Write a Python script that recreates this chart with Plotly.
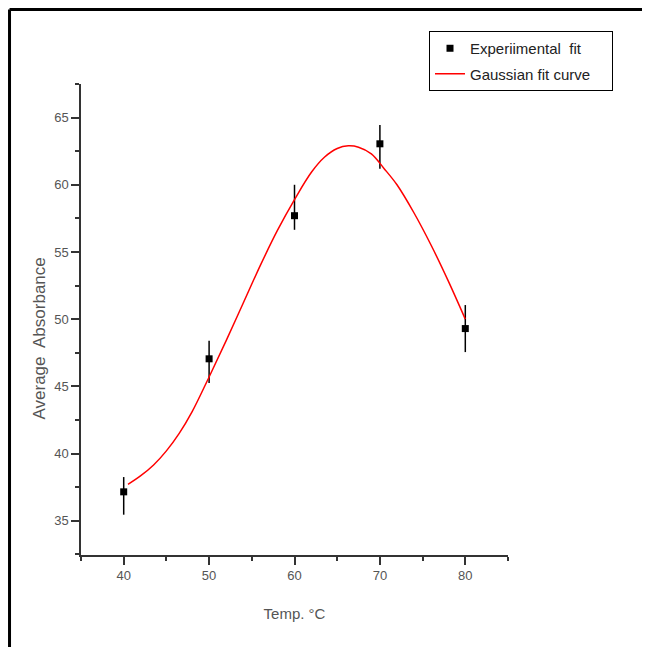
import plotly.graph_objects as go

temp = [40, 50, 60, 70, 80]
absorbance = [37.15, 47.05, 57.7, 63.05, 49.3]
err_plus = [1.1, 1.35, 2.3, 1.4, 1.75]
err_minus = [1.7, 1.8, 1.05, 1.85, 1.75]

# Gaussian fit curve
fit_x = [40.5, 42, 43.5, 45, 46.5, 48, 50, 52, 54, 56, 58, 60,
         62, 63.5, 65, 66.3, 67.5, 69, 70.5, 72, 74, 76, 78, 80]
fit_y = [37.7, 38.35, 39.15, 40.2, 41.5, 43.1, 45.7, 48.4, 51.2, 54.0, 56.6, 58.9,
         60.95, 62.05, 62.7, 62.9, 62.8, 62.3, 61.2, 60.0, 57.9, 55.5, 52.85, 50.0]

x_ticks = [40, 50, 60, 70, 80]
y_ticks = [35, 40, 45, 50, 55, 60, 65]

FONT = "Liberation Sans Narrow, Arial Narrow, Liberation Sans, Arial, sans-serif"
NB = "\u00a0"

fig = go.Figure()

fig.add_trace(go.Scatter(
    x=temp, y=absorbance, mode="markers", name="Experiimental  fit",
    marker=dict(symbol="square", size=7, color="black"),
    error_y=dict(type="data", symmetric=False, array=err_plus, arrayminus=err_minus,
                 color="black", thickness=1.5, width=0),
    legendgroup="a",
))

fig.add_trace(go.Scatter(
    x=fit_x, y=fit_y, mode="lines", name="Gaussian fit curve" + NB * 4,
    line=dict(color="#ff0000", width=1.5, shape="spline", smoothing=1.0),
    legendgroup="b",
))

axis_common = dict(
    showline=True, linecolor="#333333", linewidth=1.5,
    ticks="outside", ticklen=8, tickwidth=1.5, tickcolor="#333333",
    showgrid=False, zeroline=False, mirror=False,
    tickfont=dict(family=FONT, size=13, color="#555555"),
)

fig.update_xaxes(
    range=[35, 85], tickvals=x_ticks,
    minor=dict(dtick=5, tick0=35, ticks="outside", ticklen=4, tickwidth=1.5, tickcolor="#333333"),
    title=dict(text="Temp. °C", font=dict(family=FONT, size=15, color="#555555"), standoff=26),
    **axis_common,
)
fig.update_yaxes(
    range=[32.45, 67.5], tickvals=y_ticks,
    minor=dict(dtick=2.5, tick0=32.5, ticks="outside", ticklen=4, tickwidth=1.5, tickcolor="#333333"),
    **axis_common,
)

# y-axis title
fig.add_annotation(
    text="Average  Absorbance", textangle=-90, showarrow=False,
    xref="paper", yref="paper", x=-0.098, y=0.46, xanchor="center", yanchor="middle",
    font=dict(family="Liberation Sans, Arial, sans-serif", size=17, color="#555555"),
)

# outer frame (top and left sides visible)
fig.add_shape(type="line", xref="paper", yref="paper", x0=-0.1674, x1=1.5, y0=1.1582, y1=1.1582,
              line=dict(color="black", width=3))
fig.add_shape(type="line", xref="paper", yref="paper", x0=-0.1674, x1=-0.1674, y0=1.1582, y1=-0.3,
              line=dict(color="black", width=3))

fig.update_layout(
    width=642, height=639,
    margin=dict(l=73, r=142, t=76, b=92),
    plot_bgcolor="white", paper_bgcolor="white",
    legend=dict(
        x=0.815, y=1.1125, xanchor="left", yanchor="top",
        bordercolor="black", borderwidth=1, bgcolor="white",
        font=dict(family=FONT, size=15, color="#222222"),
        tracegroupgap=3,
    ),
)

fig.write_html("out.html")
